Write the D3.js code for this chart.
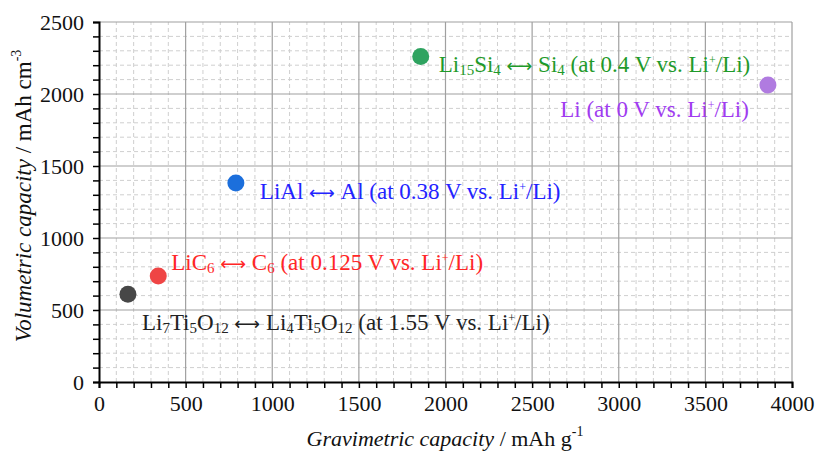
<!DOCTYPE html>
<html>
<head>
<meta charset="utf-8">
<script src="https://cdn.jsdelivr.net/npm/d3@7"></script>
<style>
  body { margin: 0; background: #fff; }
  svg { display: block; font-family: "Liberation Serif", "DejaVu Serif", serif; }
</style>
</head>
<body>
<div id="chart"></div>
<script>
// Data
const materials = ['Li4Ti5O12', 'LiC6', 'LiAl', 'Li15Si4', 'Li'];
const gravimetric = [167, 342, 790, 1857, 3861];   // mAh g-1
const volumetric = [610, 736, 1382, 2260, 2062];   // mAh cm-3

// Label text, as [text, kind] pieces: kind 'sub', 'sup', 'arrow' or null
const labelParts = [
    [['Li', null], ['7', 'sub'], ['Ti', null], ['5', 'sub'], ['O', null], ['12', 'sub'], ['\u27F7', 'arrow'], ['Li', null], ['4', 'sub'], ['Ti', null], ['5', 'sub'], ['O', null], ['12', 'sub'], [' (at 1.55 V vs. Li', null], ['+', 'sup'], ['/Li)', null]],
    [['LiC', null], ['6', 'sub'], ['\u27F7', 'arrow'], ['C', null], ['6', 'sub'], [' (at 0.125 V vs. Li', null], ['+', 'sup'], ['/Li)', null]],
    [['LiAl', null], ['\u27F7', 'arrow'], ['Al (at 0.38 V vs. Li', null], ['+', 'sup'], ['/Li)', null]],
    [['Li', null], ['15', 'sub'], ['Si', null], ['4', 'sub'], ['\u27F7', 'arrow'], ['Si', null], ['4', 'sub'], [' (at 0.4 V vs. Li', null], ['+', 'sup'], ['/Li)', null]],
    [['Li (at 0 V vs. Li', null], ['+', 'sup'], ['/Li)', null]]
];

const xTicks = [0, 500, 1000, 1500, 2000, 2500, 3000, 3500, 4000];
const yTicks = [0, 500, 1000, 1500, 2000, 2500];

// Styles
const markerColors = ['#474747', '#ef4545', '#1c6fdc', '#2fa360', '#b07be0'];
const textColors = ['#222222', '#ff2626', '#2323ff', '#1f9a2a', '#a03cf0'];
// label offsets from the marker, in pixels: [dx, dy, anchor]
const labelOffsets = [[14, 36, 'start'], [13, -6, 'start'], [24, 16, 'start'], [18, 15, 'start'], [-19, 32, 'end']];

const width = 817, height = 452;
const margin = { left: 99, right: 25, top: 22, bottom: 70 };

const svg = d3.select('#chart').append('svg')
    .attr('width', width)
    .attr('height', height);

const x = d3.scaleLinear().domain([0, 4000]).range([margin.left, width - margin.right]);
const y = d3.scaleLinear().domain([0, 2500]).range([height - margin.bottom, margin.top]);

// Minor grid (dashed) every 100
const minorX = d3.range(100, 4000, 100).filter(v => v % 500 !== 0);
const minorY = d3.range(100, 2500, 100).filter(v => v % 500 !== 0);

const grid = svg.append('g');
grid.selectAll('.mx').data(minorX).enter().append('line')
    .attr('x1', d => x(d)).attr('x2', d => x(d))
    .attr('y1', y(0)).attr('y2', y(2500))
    .attr('stroke', '#cfcfcf').attr('stroke-width', 1).attr('stroke-dasharray', '4,3');
grid.selectAll('.my').data(minorY).enter().append('line')
    .attr('x1', x(0)).attr('x2', x(4000))
    .attr('y1', d => y(d)).attr('y2', d => y(d))
    .attr('stroke', '#cfcfcf').attr('stroke-width', 1).attr('stroke-dasharray', '4,3');

// Major grid every 500
grid.selectAll('.Mx').data(xTicks.slice(1)).enter().append('line')
    .attr('x1', d => x(d)).attr('x2', d => x(d))
    .attr('y1', y(0)).attr('y2', y(2500))
    .attr('stroke', '#a0a0a0').attr('stroke-width', 1.2);
grid.selectAll('.My').data(yTicks.slice(1)).enter().append('line')
    .attr('x1', x(0)).attr('x2', x(4000))
    .attr('y1', d => y(d)).attr('y2', d => y(d))
    .attr('stroke', '#a0a0a0').attr('stroke-width', 1.2);

// Axes
const xAxis = svg.append('g')
    .attr('transform', `translate(0,${y(0)})`)
    .call(d3.axisBottom(x).tickValues(xTicks).tickSize(6).tickPadding(7).tickFormat(d3.format('d')));
const xMinor = svg.append('g')
    .attr('transform', `translate(0,${y(0)})`)
    .call(d3.axisBottom(x).tickValues(minorX).tickSize(6).tickFormat(''));
const yAxis = svg.append('g')
    .attr('transform', `translate(${x(0)},0)`)
    .call(d3.axisLeft(y).tickValues(yTicks).tickSize(6).tickPadding(9).tickFormat(d3.format('d')));
const yMinor = svg.append('g')
    .attr('transform', `translate(${x(0)},0)`)
    .call(d3.axisLeft(y).tickValues(minorY).tickSize(6).tickFormat(''));

[xAxis, xMinor, yAxis, yMinor].forEach(g => {
    g.select('.domain').attr('stroke', '#000').attr('stroke-width', 2);
    g.selectAll('.tick line').attr('stroke', '#000').attr('stroke-width', 1.5);
    g.selectAll('.tick text')
        .attr('fill', '#111')
        .style('font-family', '"Liberation Serif", serif')
        .style('font-size', '22px');
});
[xMinor, yMinor].forEach(g => g.select('.domain').attr('stroke-width', 0));

// Axis titles
const xTitle = svg.append('text')
    .attr('x', 445).attr('y', 446)
    .attr('text-anchor', 'middle')
    .style('font-size', '22px').attr('fill', '#111');
xTitle.append('tspan').style('font-style', 'italic').text('Gravimetric capacity');
xTitle.append('tspan').text(' / mAh g');
xTitle.append('tspan').attr('dy', -10).style('font-size', '14px').text('-1');

const yTitle = svg.append('text')
    .attr('transform', 'translate(31,196) rotate(-90)')
    .attr('text-anchor', 'middle')
    .style('font-size', '23px').attr('fill', '#111');
yTitle.append('tspan').style('font-style', 'italic').text('Volumetric capacity');
yTitle.append('tspan').text(' / mAh cm');
yTitle.append('tspan').attr('dy', -10).style('font-size', '14px').text('-3');

// Points
const points = svg.append('g');
points.selectAll('circle').data(materials).enter().append('circle')
    .attr('cx', (d, i) => x(gravimetric[i]))
    .attr('cy', (d, i) => y(volumetric[i]))
    .attr('r', 8.5)
    .attr('fill', (d, i) => markerColors[i]);

// Labels
materials.forEach((m, i) => {
    const off = labelOffsets[i];
    const t = svg.append('text')
        .attr('x', x(gravimetric[i]) + off[0])
        .attr('y', y(volumetric[i]) + off[1])
        .attr('text-anchor', off[2])
        .attr('fill', textColors[i])
        .style('font-size', '23px')
        .attr('xml:space', 'preserve');
    let shift = 0;
    labelParts[i].forEach(([txt, kind]) => {
        const target = kind === 'sub' ? 3 : kind === 'sup' ? -8 : 0;
        const span = t.append('tspan').attr('dy', target - shift).text(kind === 'arrow' ? ' ' + txt + ' ' : txt);
        if (kind === 'sub') span.style('font-size', '15px');
        if (kind === 'sup') span.style('font-size', '12px');
        if (kind === 'arrow') span.style('font-family', '"DejaVu Sans", sans-serif').style('font-size', '18px');
        shift = target;
    });
});
</script>
</body>
</html>
